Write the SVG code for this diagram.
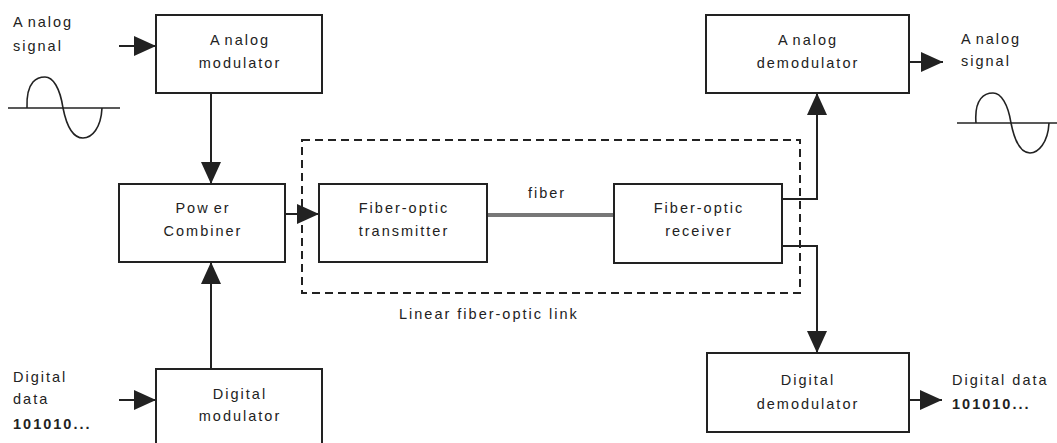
<svg xmlns="http://www.w3.org/2000/svg" width="1057" height="443" viewBox="0 0 1057 443">
<defs>
<style>
.box{fill:#fff;stroke:#222;stroke-width:2}
.t{font-family:"Liberation Sans",Arial,sans-serif;font-size:14.5px;letter-spacing:2px;fill:#222}
.c{text-anchor:middle}
.b{font-weight:bold}
.ln{fill:none;stroke:#222;stroke-width:2}
.wave{fill:none;stroke:#222;stroke-width:1.6}
</style>
<marker id="ah" markerUnits="userSpaceOnUse" markerWidth="23" markerHeight="20" refX="22" refY="10" orient="auto">
<path d="M0,0 L22,10 L0,20 Z" fill="#222"/>
</marker>
</defs>
<rect width="1057" height="443" fill="#fff"/>

<g id="link-boundary">
<rect x="302" y="140" width="498" height="153" fill="none" stroke="#222" stroke-width="2" stroke-dasharray="8,5"/>
<text class="t" x="399" y="319">Linear fiber-optic link</text>
</g>

<g id="connectors">
<line class="ln" x1="119" y1="46" x2="156" y2="46" marker-end="url(#ah)"/>
<line class="ln" x1="211" y1="93" x2="211" y2="184" marker-end="url(#ah)"/>
<line class="ln" x1="211" y1="369" x2="211" y2="262" marker-end="url(#ah)"/>
<line class="ln" x1="119" y1="400" x2="156" y2="400" marker-end="url(#ah)"/>
<line class="ln" x1="284" y1="214" x2="319" y2="214" marker-end="url(#ah)"/>
<line x1="487" y1="215" x2="614" y2="215" stroke="#777" stroke-width="4"/>
<text class="t c" x="547" y="198">fiber</text>
<polyline class="ln" points="779,199 817,199 817,93" marker-end="url(#ah)"/>
<polyline class="ln" points="779,246 817,246 817,353" marker-end="url(#ah)"/>
<line class="ln" x1="907" y1="62" x2="943" y2="62" marker-end="url(#ah)"/>
<line class="ln" x1="907" y1="400" x2="942" y2="400" marker-end="url(#ah)"/>
</g>

<g id="analog-modulator">
<rect class="box" x="156" y="15" width="166" height="78"/>
<text class="t c" x="240" y="45">A<tspan dx="3">nalog</tspan></text>
<text class="t c" x="240" y="68">modulator</text>
</g>

<g id="power-combiner">
<rect class="box" x="119" y="184" width="166" height="78"/>
<text class="t c" x="203" y="213">Pow<tspan dx="4">er</tspan></text>
<text class="t c" x="203" y="236">Combiner</text>
</g>

<g id="digital-modulator">
<rect class="box" x="156" y="369" width="166" height="80"/>
<text class="t c" x="240" y="399">Digital</text>
<text class="t c" x="240" y="421">modulator</text>
</g>

<g id="transmitter">
<rect class="box" x="319" y="184" width="168" height="78"/>
<text class="t c" x="404" y="213">Fiber-optic</text>
<text class="t c" x="404" y="236">transmitter</text>
</g>

<g id="receiver">
<rect class="box" x="614" y="184" width="168" height="79"/>
<text class="t c" x="699" y="213">Fiber-optic</text>
<text class="t c" x="699" y="236">receiver</text>
</g>

<g id="analog-demodulator">
<rect class="box" x="706" y="15" width="203" height="78"/>
<text class="t c" x="808" y="45">A<tspan dx="3">nalog</tspan></text>
<text class="t c" x="808" y="68">demodulator</text>
</g>

<g id="digital-demodulator">
<rect class="box" x="707" y="353" width="202" height="79"/>
<text class="t c" x="808" y="385">Digital</text>
<text class="t c" x="808" y="409">demodulator</text>
</g>

<g id="analog-input">
<text class="t" x="13" y="27">A<tspan dx="3">nalog</tspan></text>
<text class="t" x="13" y="51">signal</text>
<line class="wave" x1="8" y1="108" x2="120" y2="108"/>
<path class="wave" d="M27,108 C26,80 38,77 45,77 C53,77 60,88 63,108 C67,128 74,138 83,138 C92,138 101,128 102,108"/>
</g>

<g id="digital-input">
<text class="t" x="13" y="382">Digital</text>
<text class="t" x="13" y="404">data</text>
<text class="t b" x="13" y="429">101010...</text>
</g>

<g id="analog-output">
<text class="t" x="961" y="44">A<tspan dx="3">nalog</tspan></text>
<text class="t" x="961" y="66">signal</text>
<line class="wave" x1="957" y1="123" x2="1057" y2="123"/>
<path class="wave" d="M976,123 C974,98 985,93 993,93 C1001,93 1008,104 1011,123 C1015,143 1022,153 1030,153 C1038,153 1048,143 1049,123"/>
</g>

<g id="digital-output">
<text class="t" x="952" y="385">Digital data</text>
<text class="t b" x="952" y="409">101010...</text>
</g>
</svg>
